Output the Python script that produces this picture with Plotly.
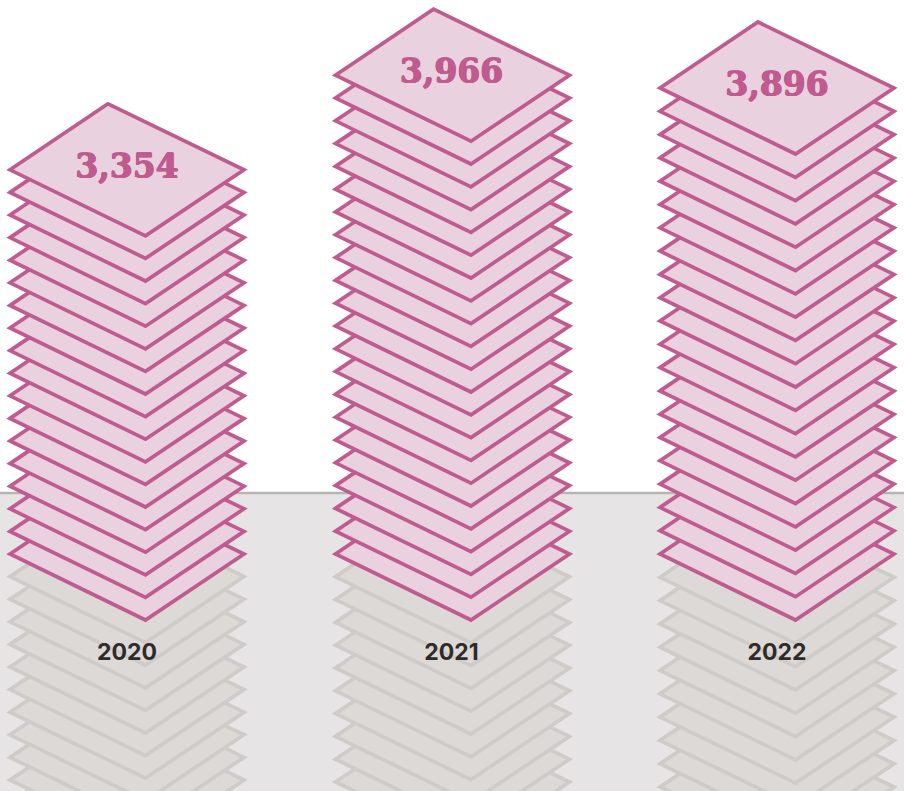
import plotly.graph_objects as go

years = ["2020", "2021", "2022"]
values = [3354, 3966, 3896]
layers = [18, 22, 21]
layer_gap = [22.6, 22.8, 23.3]
left_edge = [10, 335.5, 660]
label_x = [127, 451.5, 777]

BASE_Y = 554
GROUND_Y = 493
W = 234
TOP_OFF = 98
BOT_OFF = 135.5
HALF_H = 66
TOP_LABEL_DY = -0.5
YEAR_Y = 654

PINK = "#bf5b8e"
PINK_FILL = "#e9d1df"
GREY = "#cecbc9"
GREY_FILL = "#dcd9d7"
BAND = "#e6e4e5"
RULE = "#b7b5b2"
INK = "#2f2b29"


def diamond(x0, yc, line, fill):
    return go.Scatter(
        x=[x0, x0 + TOP_OFF, x0 + W, x0 + BOT_OFF, x0, x0 + TOP_OFF],
        y=[yc, yc - HALF_H, yc, yc + HALF_H, yc, yc - HALF_H],
        mode="lines",
        line=dict(color=line, width=3.7),
        fill="toself",
        fillcolor=fill,
        hoverinfo="skip",
        showlegend=False,
    )


fig = go.Figure()
for x0, n, gap in zip(left_edge, layers, layer_gap):
    for i in range(12, 0, -1):
        fig.add_trace(diamond(x0, BASE_Y + i * gap, GREY, GREY_FILL))
for x0, n, gap in zip(left_edge, layers, layer_gap):
    for i in range(n):
        fig.add_trace(diamond(x0, BASE_Y - i * gap, PINK, PINK_FILL))

fig.add_trace(go.Scatter(
    x=label_x,
    y=[BASE_Y - (n - 1) * g + TOP_LABEL_DY for n, g in zip(layers, layer_gap)],
    mode="text",
    text=[f"{v:,}" for v in values],
    textposition="middle center",
    textfont=dict(family="DejaVu Serif", size=33, color=PINK, weight="bold",
                  shadow=f"0.6px 0 0 {PINK}, -0.6px 0 0 {PINK}, 0 0.5px 0 {PINK}, 0 -0.5px 0 {PINK}"),
    hoverinfo="skip",
    showlegend=False,
))
fig.add_trace(go.Scatter(
    x=label_x,
    y=[YEAR_Y] * 3,
    mode="text",
    text=years,
    textposition="middle center",
    textfont=dict(family="Inter", size=23, color=INK, weight="bold"),
    hoverinfo="skip",
    showlegend=False,
))

fig.update_layout(
    width=904,
    height=791,
    autosize=False,
    margin=dict(l=0, r=0, t=0, b=0),
    paper_bgcolor="white",
    plot_bgcolor="white",
    xaxis=dict(range=[0, 904], visible=False, fixedrange=True),
    yaxis=dict(range=[791, 0], visible=False, fixedrange=True),
    shapes=[
        dict(type="rect", xref="x", yref="y", x0=0, x1=904, y0=GROUND_Y, y1=791,
             fillcolor=BAND, line_width=0, layer="below"),
        dict(type="line", xref="x", yref="y", x0=0, x1=904, y0=GROUND_Y, y1=GROUND_Y,
             line=dict(color=RULE, width=2.5), layer="below"),
    ],
)

fig.write_html(
    "out.html",
    config={"displayModeBar": False, "responsive": False},
    post_script=(
        "document.body.style.margin='0';document.body.style.overflow='hidden';"
        "document.querySelectorAll('.js-line').forEach(function(p){"
        "p.style.strokeMiterlimit='10';p.style.strokeLinejoin='miter';});"
    ),
)
